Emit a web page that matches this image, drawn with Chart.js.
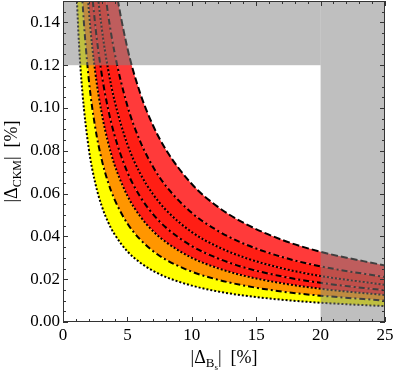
<!DOCTYPE html>
<html lang="en">
<head>
<meta charset="UTF-8">
<title>Delta CKM vs Delta Bs</title>
<script src="https://cdn.jsdelivr.net/npm/chart.js"></script>
<style>
  body { margin: 0; background: #fff; }
  #wrap { width: 395px; height: 372px; position: relative; }
</style>
</head>
<body>
<div id="wrap"><canvas id="bandChart"></canvas></div>
<script>
// sample points along |Delta_Bs| [%]
const xGrid = [1, 1.25, 1.5, 2, 2.5, 3, 3.5, 4, 5, 6, 7, 8, 10, 12, 14, 17, 20, 25];

// boundary curves, bottom to top (|Delta_CKM| [%])
const curve1 = [.161, .129, .1077, .081, .065, .0543, .0467, .041, .033, .0277, .0239, .021, .017, .0143, .0124, .0104, .009, .0074];
const curve2 = [.226, .181, .151, .1135, .091, .076, .0653, .0573, .046, .0385, .0331, .0291, .0235, .0198, .0171, .0142, .0123, .010];
const curve3 = [.291, .233, .1943, .146, .117, .0977, .0839, .0735, .059, .0493, .0424, .0373, .030, .0252, .0217, .0181, .0155, .0126];
const curve4 = [.346, .277, .231, .1735, .139, .116, .0996, .0873, .070, .0585, .0503, .0441, .0355, .0298, .0256, .0213, .0183, .0148];
const curve5 = [.411, .329, .2743, .206, .165, .1377, .1181, .1035, .083, .0693, .0596, .0523, .042, .0352, .0303, .0251, .0215, .0174];
const curve6 = [.501, .401, .3343, .251, .201, .1677, .1439, .126, .101, .0843, .0724, .0635, .051, .0427, .0367, .0304, .026, .021];
const curve7 = [.636, .509, .4243, .3185, .255, .2127, .1824, .1598, .128, .1068, .0917, .0804, .0645, .0539, .0464, .0384, .0328, .0264];

const xTickValues = [0, 5, 10, 15, 20, 25];
const yTickValues = [0, 0.02, 0.04, 0.06, 0.08, 0.10, 0.12, 0.14];

// excluded region: |Delta_Bs| > 20 or |Delta_CKM| > 0.12
const xLimit = 20;
const yLimit = 0.12;

const YELLOW = '#ffff00';
const ORANGE = '#ff9600';
const RED = '#ff1e14';
const LIGHTRED = '#ff3a3a';

const DOT = [2, 2];
const DASHDOT = [6, 3, 2, 3];
const DASH = [7, 3];

function pts(arr) {
    return arr.map((y, i) => ({ x: xGrid[i], y: y }));
}

function band(arr, fillColor, dash) {
    return {
        data: pts(arr),
        borderColor: '#000',
        borderWidth: 2,
        borderDash: dash,
        pointRadius: 0,
        cubicInterpolationMode: 'monotone',
        fill: fillColor ? '-1' : false,
        backgroundColor: fillColor || 'transparent'
    };
}

const serif = '"Liberation Serif", "DejaVu Serif", serif';

const decor = {
    id: 'decor',
    afterDatasetsDraw(chart) {
        const ctx = chart.ctx;
        const xs = chart.scales.x, ys = chart.scales.y;
        const a = chart.chartArea;
        const xl = xs.getPixelForValue(xLimit);
        const yl = ys.getPixelForValue(yLimit);
        ctx.save();
        ctx.fillStyle = 'rgba(128,128,128,0.5)';
        ctx.fillRect(xl, a.top, a.right - xl, a.bottom - a.top);
        ctx.fillRect(a.left, a.top, xl - a.left, yl - a.top);
        ctx.restore();
    },
    afterDraw(chart) {
        const ctx = chart.ctx;
        const xs = chart.scales.x, ys = chart.scales.y;
        const a = chart.chartArea;
        ctx.save();
        ctx.strokeStyle = '#333';
        ctx.lineWidth = 1;
        ctx.strokeRect(a.left + 0.5, a.top + 0.5, a.right - a.left - 1, a.bottom - a.top - 1);

        ctx.beginPath();
        for (let v = 0; v <= 25; v += 1) {
            const px = Math.round(xs.getPixelForValue(v)) + 0.5;
            const len = v % 5 === 0 ? 5 : 3;
            ctx.moveTo(px, a.bottom); ctx.lineTo(px, a.bottom - len);
            ctx.moveTo(px, a.top); ctx.lineTo(px, a.top + len);
        }
        for (let i = 0; i <= 30; i++) {
            const v = i * 0.005;
            const py = Math.round(ys.getPixelForValue(v)) + 0.5;
            const len = i % 4 === 0 ? 5 : 3;
            ctx.moveTo(a.left, py); ctx.lineTo(a.left + len, py);
            ctx.moveTo(a.right, py); ctx.lineTo(a.right - len, py);
        }
        ctx.stroke();

        // axis titles with subscripts
        ctx.fillStyle = '#000';
        ctx.textBaseline = 'alphabetic';
        const parts = (list) => list.reduce((w, p) => { ctx.font = p[1] + 'px ' + serif; return w + ctx.measureText(p[0]).width; }, 0);
        const drawParts = (list, x, y) => {
            let cx = x;
            list.forEach(p => {
                ctx.font = p[1] + 'px ' + serif;
                ctx.fillText(p[0], cx, y + p[2]);
                cx += ctx.measureText(p[0]).width;
            });
        };

        const xt = [['|Δ', 18, 0], ['B', 13, 4], ['s', 9, 7], ['|  [%]', 18, 0]];
        const xw = parts(xt);
        drawParts(xt, (a.left + a.right) / 2 - xw / 2, 363);

        const yt = [['|Δ', 18, 0], ['CKM', 12, 4], ['|  [%]', 18, 0]];
        const yw = parts(yt);
        ctx.save();
        ctx.translate(17, (a.top + a.bottom) / 2);
        ctx.rotate(-Math.PI / 2);
        drawParts(yt, -yw / 2, 0);
        ctx.restore();
        ctx.restore();
    }
};

new Chart(document.getElementById('bandChart'), {
    type: 'line',
    data: {
        datasets: [
            band(curve1, null, DOT),
            band(curve2, YELLOW, DASHDOT),
            band(curve3, ORANGE, DOT),
            band(curve4, RED, DASHDOT),
            band(curve5, RED, DOT),
            band(curve6, RED, DASHDOT),
            band(curve7, LIGHTRED, DASH)
        ]
    },
    options: {
        responsive: true,
        maintainAspectRatio: false,
        animation: false,
        layout: { padding: { top: 1, right: 10, bottom: 0, left: 0 } },
        plugins: {
            legend: { display: false },
            tooltip: { enabled: false },
            filler: { drawTime: 'beforeDatasetsDraw' }
        },
        scales: {
            x: {
                type: 'linear',
                min: 0, max: 25,
                grid: { display: false, drawTicks: false },
                border: { display: false },
                afterBuildTicks: s => { s.ticks = xTickValues.map(v => ({ value: v })); },
                afterFit: s => { s.height = 50; s.paddingLeft = 0; s.paddingRight = 0; },
                ticks: {
                    padding: 3,
                    maxRotation: 0,
                    color: '#000',
                    font: { family: serif, size: 17 },
                    callback: v => String(v)
                }
            },
            y: {
                type: 'linear',
                min: 0, max: 0.15,
                grid: { display: false, drawTicks: false },
                border: { display: false },
                afterBuildTicks: s => { s.ticks = yTickValues.map(v => ({ value: v })); },
                afterFit: s => { s.width = 63; s.paddingTop = 0; s.paddingBottom = 0; },
                ticks: {
                    padding: 3,
                    color: '#000',
                    font: { family: serif, size: 17 },
                    callback: v => v.toFixed(2)
                }
            }
        }
    },
    plugins: [decor]
});
</script>
</body>
</html>
